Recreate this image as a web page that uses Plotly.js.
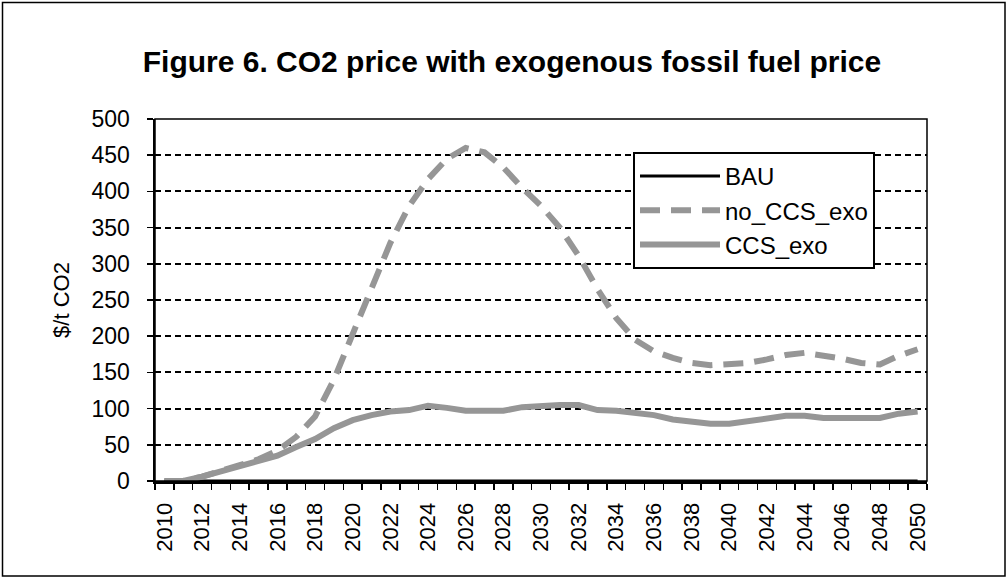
<!DOCTYPE html>
<html>
<head>
<meta charset="utf-8">
<script src="https://cdn.plot.ly/plotly-3.0.1.min.js"></script>
<style>
html,body{margin:0;padding:0;background:#fff;}
#chart{width:1008px;height:579px;}
</style>
</head>
<body>
<div id="chart"></div>
<script>
const years = [2010,2011,2012,2013,2014,2015,2016,2017,2018,2019,2020,2021,2022,2023,2024,2025,2026,2027,2028,2029,2030,2031,2032,2033,2034,2035,2036,2037,2038,2039,2040,2041,2042,2043,2044,2045,2046,2047,2048,2049,2050];
const tickYears = [2010,2012,2014,2016,2018,2020,2022,2024,2026,2028,2030,2032,2034,2036,2038,2040,2042,2044,2046,2048,2050];
const bau = [0,0,0,0,0,0,0,0,0,0,0,0,0,0,0,0,0,0,0,0,0,0,0,0,0,0,0,0,0,0,0,0,0,0,0,0,0,0,0,0,0];
const noCCSexo = [0,0,6,13,22,30,42,61,89,140,204,269,329,380,417,445,460,454,433,405,380,350,311,265,225,195,179,170,163,160,161,163,168,174,177,174,169,163,161,173,182];
const CCSexo = [0,0,6,13,22,28,35,47,58,73,84,91,96,98,104,101,97,97,97,102,104,105,105,98,97,95,91,85,81,79,79,82,85,90,90,87,87,87,87,93,96];

const W = 1008, H = 579;
const m = {l:155, r:81, t:119, b:98};
const pw = W - m.l - m.r, ph = H - m.t - m.b;
const px = v => (v - m.l) / pw;
const py = v => (H - m.b - v) / ph;

const gray = '#969696';
const font = 'Arial, "Liberation Sans", sans-serif';

const traces = [
  {x: years, y: bau, name: 'BAU', mode: 'lines', line: {color: '#000', width: 3}},
  {x: years, y: noCCSexo, name: 'no_CCS_exo', mode: 'lines', line: {color: gray, width: 6, dash: '20px,11px'}},
  {x: years, y: CCSexo, name: 'CCS_exo', mode: 'lines', line: {color: gray, width: 6}}
];

const layout = {
  width: W, height: H,
  margin: m,
  paper_bgcolor: '#fff', plot_bgcolor: '#fff',
  font: {family: font, color: '#000', size: 22},
  showlegend: true,
  title: {text: '<b>Figure 6. CO2 price with exogenous fossil fuel price</b>', font: {family: font, size: 30, color: '#000'},
          x: 512/W, xref: 'container', xanchor: 'center', y: 1 - 61/H, yref: 'container', yanchor: 'middle'},
  xaxis: {
    range: [2009.5, 2050.5], tickmode: 'array', tickvals: tickYears, ticktext: tickYears.map(String),
    tickangle: -90, ticks: '', showgrid: false, zeroline: false,
    showline: true, linecolor: '#000', linewidth: 3,
    tickfont: {family: font, size: 22, color: '#000'}, ticklabelstandoff: 10,
    minor: {ticks: 'outside', tick0: 2009.5, dtick: 1, ticklen: 6, tickwidth: 1.5, tickcolor: '#000', showgrid: false}
  },
  yaxis: {
    range: [0, 500], dtick: 50, tick0: 0, ticks: 'outside', ticklen: 6, tickwidth: 1.5, tickcolor: '#000',
    showline: true, linecolor: '#000', linewidth: 2.5, zeroline: false,
    showgrid: true, gridcolor: '#000', gridwidth: 2, griddash: '6px,4px',
    tickfont: {family: font, size: 23, color: '#000'}, ticklabelstandoff: 12,
    title: {text: '$/t CO2', font: {family: font, size: 22, color: '#000'}, standoff: 16}
  },
  legend: {
    x: px(633), y: py(152), xanchor: 'left', yanchor: 'top',
    bgcolor: '#fff', bordercolor: '#000', borderwidth: 2,
    font: {family: font, size: 24, color: '#000'}, itemwidth: 80, tracegroupgap: 0
  },
  shapes: [
    {type: 'rect', xref: 'paper', yref: 'paper', x0: 0, x1: 1, y0: 0, y1: 1, line: {color: '#000', width: 1.5}, layer: 'above'},
    {type: 'rect', xref: 'paper', yref: 'paper', x0: px(2.5), x1: px(1005), y0: py(576), y1: py(2.5), line: {color: '#000', width: 1.5}, fillcolor: 'rgba(0,0,0,0)'}
  ]
};

Plotly.newPlot('chart', traces, layout, {staticPlot: true, displayModeBar: false});
</script>
</body>
</html>
